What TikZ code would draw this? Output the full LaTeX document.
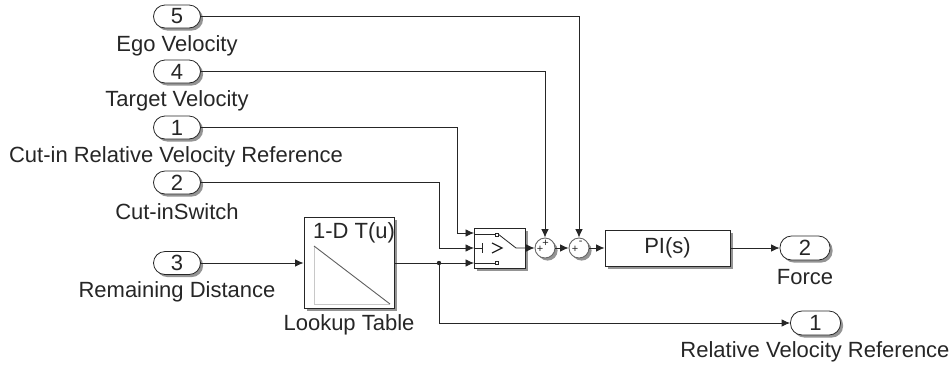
\documentclass[tikz,border=0pt]{standalone}
\usepackage{fontspec}
\setmainfont{Liberation Sans}
\usetikzlibrary{arrows.meta,positioning,shadows,calc}
\definecolor{inkline}{HTML}{262626}
\definecolor{axisgray}{HTML}{C8C8C8}
\definecolor{slopegray}{HTML}{606060}

\begin{document}
\begin{tikzpicture}[
  x=1pt, y=-1pt,
  font=\fontsize{22}{24}\selectfont,
  >={Latex[length=8.5pt,width=7.5pt]},
  softshadow/.style={drop shadow={shadow xshift=2.6pt, shadow yshift=-2.6pt, fill=black!60, opacity=0.7}},
  port/.style={rounded corners=11.5pt, draw=inkline, line width=0.8pt, fill=white, softshadow,
               minimum width=47pt, minimum height=23pt, inner sep=0pt, text=inkline},
  block/.style={draw=inkline, line width=0.9pt, fill=white, softshadow, inner sep=0pt, text=inkline},
  summer/.style={circle, draw=inkline!70, line width=0.9pt, fill=white, softshadow,
                 minimum size=20pt, inner sep=0pt},
  lab/.style={inner sep=0pt, text=inkline},
  sign/.style={inner sep=0pt, font=\fontsize{11}{11}\selectfont, text=inkline},
  arr/.style={->, draw=inkline, line width=0.8pt},
  wire/.style={draw=inkline, line width=0.8pt},
]
\useasboundingbox (0,0) rectangle (952,365);

% ---- input ports ----
\node[port] (egoport)  at (177,16.5)  {5};
\node[port] (tgtport)  at (177,71.5)  {4};
\node[port] (cutport)  at (177,127.5) {1};
\node[port] (swport)   at (177,182.5) {2};
\node[port] (remport)  at (177,263) {3};
\node[lab] (egolab) at (177,46)  {Ego Velocity};
\node[lab] (tgtlab) at (177,101) {Target Velocity};
\node[lab] (cutlab) at (176,156.5) {Cut-in Relative Velocity Reference};
\node[lab] (swlab)  at (177,212) {Cut-inSwitch};
\node[lab] (remlab) at (177,292) {Remaining Distance};

% ---- blocks ----
\node[block, minimum width=90pt, minimum height=91pt] (lut) at (349,263) {};
\node[lab] (luttxt) at (354,232.5) {1-D T(u)};
\node[lab] (lutlab) at (349,325) {Lookup Table};
\node[block, minimum width=51pt, minimum height=40pt] (switch) at (499.5,248) {};
\node[summer] (suma) at (545,248) {};
\node[summer] (sumb) at (579,248) {};
\node[block, minimum width=125pt, minimum height=36pt] (pi) at (667.5,248) {PI(s)};

% ---- output ports ----
\node[port, minimum width=50pt, minimum height=24pt] (forceport) at (805,248) {2};
\node[port, minimum width=50pt, minimum height=24pt] (relport)   at (815.5,323) {1};
\node[lab] (forcelab) at (805,277) {Force};
\node[lab] (rellab)   at (815,352) {Relative Velocity Reference};

% ---- lookup icon ----
\draw[axisgray, line width=0.8pt] (314,246) -- (314,304) -- (390,304);
\draw[slopegray, line width=0.9pt] (314,246) -- (390,304);

% ---- switch icon ----
\coordinate (swtop) at (474,233);
\coordinate (swmid) at (474,248);
\coordinate (swbot) at (474,263);
\node[draw=inkline, fill=white, line width=0.5pt, minimum size=2.8pt, inner sep=0pt] (conta) at (497,234.5) {};
\node[draw=inkline, fill=white, line width=0.5pt, minimum size=2.8pt, inner sep=0pt] (contb) at (497,263) {};
\draw[wire] (swtop) ++(0,1.5) -- (conta.west);
\draw[wire] (swbot) -- (contb.west);
\draw[wire] (conta.east) -- (516,248) -- (switch.east);
\draw[wire] (swmid) -- (482,248);
\draw[wire] (482,243) -- (482,253);
\draw[inkline, line width=1.2pt] (492,243) -- (502,248) -- (492,253);

% ---- summer signs ----
\node[sign] (signa) at (545.7,243) {+};
\node[sign] (signb) at (540,249)   {+};
\node[sign] (signc) at (580.7,243) {-};
\node[sign] (signd) at (575,249)   {+};

% ---- arrows ----
\coordinate (junct) at (439,263);
\draw[arr] (egoport.east) -| (sumb.north);
\draw[arr] (tgtport.east) -| (suma.north);
\draw[arr] (cutport.east) -| ([xshift=-17pt]swtop) -- (swtop);
\draw[arr] (swport.east) -| ([xshift=-35pt]swmid) -- (swmid);
\draw[arr] (remport.east) -- (lut.west);
\draw[arr] (lut.east) -- (swbot);
\fill[inkline] (junct) circle (2.2pt);
\draw[arr] (junct) |- (relport.west);
\draw[arr] (switch.east) -- (suma.west);
\draw[arr] (suma.east) -- (sumb.west);
\draw[arr] (sumb.east) -- (pi.west);
\draw[arr] (pi.east) -- (forceport.west);

\end{tikzpicture}
\end{document}
